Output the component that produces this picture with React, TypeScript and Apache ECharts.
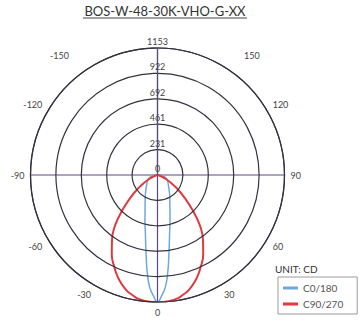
import React, { useEffect, useRef } from "react";
import * as echarts from "echarts";

const chartTitle = "BOS-W-48-30K-VHO-G-XX";
const unitLabel = "UNIT: CD";
const seriesNames = ["C0/180", "C90/270"];

// angles in degrees (0 = straight down, +90 = right, -90 = left)
const angles = [
  -90, -85, -80, -75, -70, -65, -60, -55, -50, -45, -40, -35, -30, -25, -20, -15, -12, -10, -8, -6, -4, -2,
  0,
  2, 4, 6, 8, 10, 12, 15, 20, 25, 30, 35, 40, 45, 50, 55, 60, 65, 70, 75, 80, 85, 90,
];

// C0/180 candela values
const c0Values = [
  0, 20, 42, 62, 82, 96, 106, 116, 127, 142, 162, 188, 222, 265, 330, 440, 530, 620, 740, 890, 1020, 1095,
  1153,
  1095, 1020, 890, 740, 620, 530, 440, 330, 265, 222, 188, 162, 142, 127, 116, 106, 96, 82, 62, 42, 20, 0,
];

// C90/270 candela values
const c90Values = [
  0, 0, 0, 8, 30, 75, 140, 220, 320, 450, 600, 720, 830, 925, 1015, 1085, 1112, 1130, 1140, 1147, 1151, 1153,
  1153,
  1153, 1151, 1147, 1140, 1130, 1112, 1085, 1015, 925, 830, 720, 600, 450, 320, 220, 140, 75, 30, 8, 0, 0, 0,
];

const radiusTicks = ["0", "231", "461", "692", "922", "1153"];
const angleTicks = ["", "{l|-150}", "-120", "-90", "-60", "-30", "0", "30", "60", "90", "120", "{r|150}", ""];

const FONT = "Lato, 'Noto Sans', sans-serif";

export default function App() {
  const ref = useRef<HTMLDivElement>(null);
  useEffect(() => {
    if (!ref.current) return;
    const chart = echarts.init(ref.current, null, { renderer: "svg" });
    const gridColor = "#35323f";
    const crossColor = "#5a4a7e";
    chart.setOption({
      animation: false,
      backgroundColor: "#ffffff",
      textStyle: { fontFamily: FONT },
      polar: { center: [157.5, 175], radius: 127 },
      angleAxis: {
        type: "value",
        min: -180,
        max: 180,
        interval: 30,
        startAngle: 90,
        clockwise: false,
        axisLine: { show: true, lineStyle: { color: gridColor, width: 1.2 } },
        axisTick: { show: false },
        splitLine: {
          show: true,
          lineStyle: { color: [crossColor, "transparent", "transparent"], width: 1.2 },
        },
        axisLabel: {
          show: true,
          margin: 6,
          color: "#444",
          fontSize: 9,
          fontFamily: FONT,
          formatter: (v: number) => angleTicks[Math.round((v + 180) / 30)] ?? "",
          rich: {
            l: { fontSize: 9, color: "#444", padding: [0, 22, 0, 0] },
            r: { fontSize: 9, color: "#444", padding: [0, 0, 0, 20] },
          },
        },
      },
      radiusAxis: {
        type: "value",
        min: 0,
        max: 1153,
        interval: 230.6,
        axisLine: { show: true, lineStyle: { color: crossColor, width: 1.2 } },
        axisTick: { show: false },
        splitLine: { show: true, lineStyle: { color: gridColor, width: 1.2 } },
        axisLabel: {
          show: true,
          margin: 0,
          align: "center",
          verticalAlign: "bottom",
          padding: [0, 0, 2, 0],
          color: "#444",
          fontSize: 9,
          fontFamily: FONT,
          formatter: (v: number) => radiusTicks[Math.round(v / 230.6)] ?? "",
        },
        z: 5,
      },
      legend: {
        left: 278,
        top: 277,
        orient: "vertical",
        borderColor: "#9a9a9a",
        borderWidth: 1,
        padding: [6, 14, 5, 5],
        itemGap: 6,
        itemWidth: 15,
        itemHeight: 3,
        icon: "rect",
        textStyle: { fontSize: 10, color: "#555", fontFamily: FONT },
        data: seriesNames,
      },
      graphic: [
        {
          type: "text",
          x: 165,
          y: 4,
          style: {
            text: chartTitle,
            fill: "#333",
            font: `13px ${FONT}`,
            align: "center",
          },
        },
        {
          type: "line",
          shape: { x1: 83, y1: 18, x2: 247, y2: 18 },
          style: { stroke: "#444", lineWidth: 1 },
        },
        {
          type: "text",
          left: 275,
          top: 264,
          style: { text: unitLabel, fill: "#333", font: `10px ${FONT}` },
        },
      ],
      series: [
        {
          name: seriesNames[0],
          type: "line",
          coordinateSystem: "polar",
          smooth: true,
          showSymbol: false,
          lineStyle: { color: "#6fa8dc", width: 1.5 },
          itemStyle: { color: "#6fa8dc" },
          data: angles.map((a, i) => [c0Values[i], a]),
          z: 3,
        },
        {
          name: seriesNames[1],
          type: "line",
          coordinateSystem: "polar",
          smooth: true,
          showSymbol: false,
          lineStyle: { color: "#e0393e", width: 2 },
          itemStyle: { color: "#e0393e" },
          data: angles.map((a, i) => [c90Values[i], a]),
          z: 4,
        },
      ],
    });
    return () => chart.dispose();
  }, []);
  return (
    <div
      ref={ref}
      style={{ position: "fixed", left: 0, top: 0, width: 360, height: 324, background: "#fff" }}
    />
  );
}
